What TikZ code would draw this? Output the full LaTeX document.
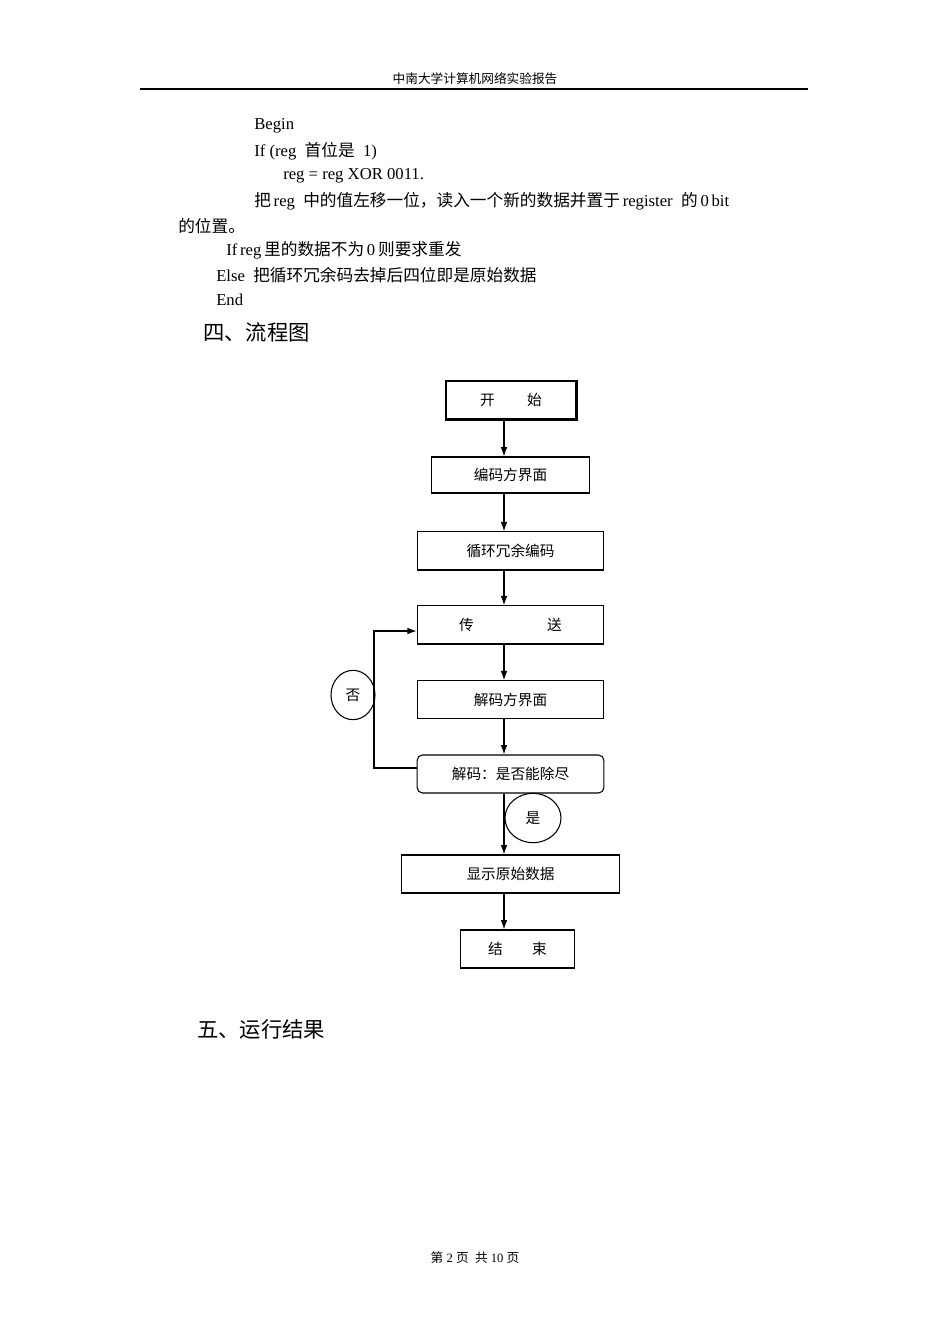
\documentclass[tikz,border=0pt]{standalone}
\usepackage{fontspec}
\setmainfont{Liberation Serif}
\newfontfamily\cjk{Noto Sans CJK SC}
\usetikzlibrary{arrows.meta,shapes.geometric}
\begin{document}
\begin{tikzpicture}[x=0.75pt,y=-0.75pt,
  txt/.style={anchor=west,inner sep=0pt,font=\fontsize{12.5pt}{14pt}\selectfont},
  box/.style={draw,line width=0.8pt,font=\cjk\fontsize{11pt}{13pt}\selectfont},
  arr/.style={-{Latex[length=7pt,width=5pt]},line width=0.9pt},
  lbl/.style={draw,ellipse,line width=0.8pt,font=\cjk\fontsize{11pt}{13pt}\selectfont}]
\useasboundingbox (0,0) rectangle (950,1344);
\fill[white] (0,0) rectangle (950,1344);
% header
\node[inner sep=0pt,font=\cjk\fontsize{9.5pt}{11pt}\selectfont] (hd) at (475,79) {中南大学计算机网络实验报告};
\draw[line width=1.2pt] (140,89) -- (808,89);
% body text
\node[txt] (t1) at (254,126) {Begin};
\node[txt] (t2) at (254,151) {If (reg\ \ {\cjk 首位是}\ \ 1)};
\node[txt] (t3) at (283,176) {reg = reg XOR 0011.};
\node[txt] (t4) at (254,201) {{\cjk 把}\,reg\ \ {\cjk 中的值左移一位，读入一个新的数据并置于}\,register\ \ {\cjk 的}\,0\,bit};
\node[txt] (t5) at (178,226) {\cjk 的位置。};
\node[txt] (t6) at (226,250) {If\,reg\,{\cjk 里的数据不为}\,0\,{\cjk 则要求重发}};
\node[txt] (t7) at (216,275) {Else\ \ {\cjk 把循环冗余码去掉后四位即是原始数据}};
\node[txt] (t8) at (216,300) {End};
\node[txt,font=\cjk\fontsize{16pt}{18pt}\selectfont] (s4) at (203,332) {四、流程图};
\node[txt,font=\cjk\fontsize{16pt}{18pt}\selectfont] (s5) at (197,1029) {五、运行结果};
\node[inner sep=0pt,font=\fontsize{9.5pt}{11pt}\selectfont] (ft) at (475,1258) {{\cjk 第}\ 2\ {\cjk 页}\ \ {\cjk 共}\ 10\ {\cjk 页}};
% flowchart
\node[box,minimum width=97.5pt,minimum height=28.5pt] (start) at (511,400) {开\hspace{2.2em}始};
\draw[line width=1.6pt] (start.north east) -- (start.south east) -- (start.south west);
\node[box,minimum width=119pt,minimum height=27pt] (enc) at (510.5,475) {编码方界面};
\node[box,minimum width=140pt,minimum height=28pt] (crc) at (510.5,550.5) {循环冗余编码};
\draw[line width=1.4pt] (crc.south west) -- (crc.south east);
\node[box,minimum width=140pt,minimum height=28pt] (send) at (510.5,624.5) {传\hspace{5em}送};
\draw[line width=1.4pt] (send.south west) -- (send.south east);
\node[box,minimum width=140pt,minimum height=28pt] (dec) at (510.5,699.5) {解码方界面};
\node[box,rounded corners=4pt,minimum width=140pt,minimum height=28.5pt] (chk) at (510.5,774) {解码：是否能除尽};
\node[box,minimum width=163pt,minimum height=28.5pt] (show) at (510.5,874) {显示原始数据};
\node[box,minimum width=86pt,minimum height=28.5pt] (end) at (517.5,949) {结\hspace{2em}束};
\coordinate (ax) at (504,0);
\draw[arr] (start.south -| ax) -- (enc.north -| ax);
\draw[arr] (enc.south -| ax) -- (crc.north -| ax);
\draw[arr] (crc.south -| ax) -- (send.north -| ax);
\draw[arr] (send.south -| ax) -- (dec.north -| ax);
\draw[arr] (dec.south -| ax) -- (chk.north -| ax);
\draw[arr] (chk.south -| ax) -- (show.north -| ax);
\draw[arr] (show.south -| ax) -- (end.north -| ax);
\coordinate (lx) at (374,0);
\draw[arr] (chk.west |- 0,768) -- (lx |- 0,768) -- (lx |- 0,631) -- (send.west |- 0,631);
\node[lbl,minimum width=33pt,minimum height=37pt,inner sep=0pt] (no) at (353,695) {否};
\node[lbl,minimum width=42pt,minimum height=37pt,inner sep=0pt] (yes) at (533,818) {是};
\end{tikzpicture}
\end{document}
